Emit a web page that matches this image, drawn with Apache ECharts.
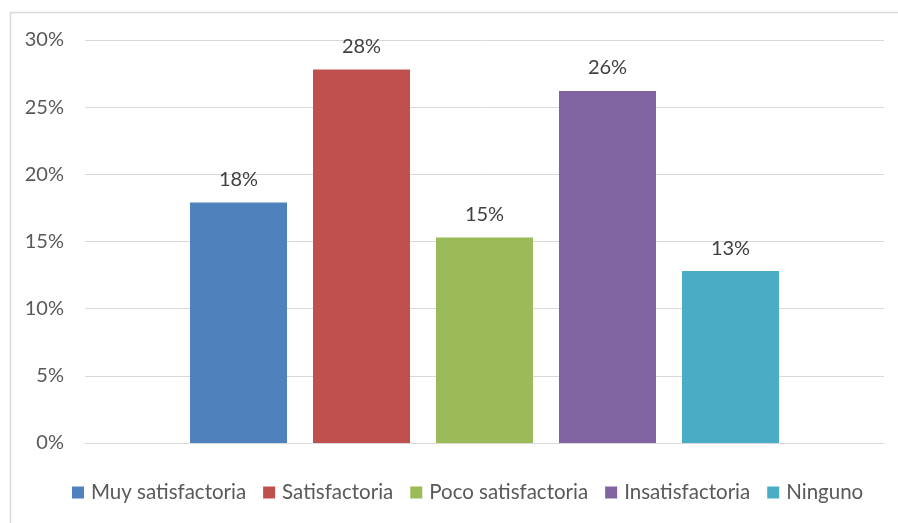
<!DOCTYPE html>
<html><head><meta charset="utf-8">
<script src="https://cdn.jsdelivr.net/npm/echarts@6/dist/echarts.min.js"></script>
<style>html,body{margin:0;padding:0;background:#fff}#c{width:898px;height:523px}</style>
</head><body><div id="c"></div>
<script>
const seriesNames = ['Muy satisfactoria','Satisfactoria','Poco satisfactoria','Insatisfactoria','Ninguno'];
const seriesValues = [17.9, 27.8, 15.3, 26.2, 12.8];
const seriesLabels = ['18%','28%','15%','26%','13%'];
const colors = ['#4F81BD','#C0504D','#9BBB59','#8064A2','#4BACC6'];
const yTicks = [0,5,10,15,20,25,30];

const font = 'Lato, "Open Sans", sans-serif';
const chart = echarts.init(document.getElementById('c'));
chart.setOption({
  animation:false,
  color: colors,
  graphic:[{type:'rect',shape:{x:10.5,y:12.5,width:900,height:520},style:{fill:null,stroke:'#d9d9d9',lineWidth:1.5},silent:true}],
  grid:{left:85,right:14,top:40,bottom:80},
  legend:{top:477,left:67,itemWidth:12,itemHeight:12,itemGap:17,icon:'rect',
    textStyle:{color:'#595959',fontSize:20.5,fontFamily:font,padding:[0,0,0,2]}, data:seriesNames},
  xAxis:{type:'category',data:[''],axisLine:{lineStyle:{color:'#d9d9d9',width:1}},axisTick:{show:false},axisLabel:{show:false}},
  yAxis:{type:'value',min:0,max:30,interval:5,
    axisLabel:{formatter:v=>yTicks.includes(v)?v+'%':'',color:'#595959',fontSize:20,fontFamily:font,margin:21},
    splitLine:{lineStyle:{color:'#d9d9d9',width:1}},axisLine:{show:false},axisTick:{show:false}},
  series: seriesNames.map((n,i)=>({
    name:n,type:'bar',data:[seriesValues[i]],barWidth:97,barGap:'26.8%',
    label:{show:true,position:'top',distance:13,formatter:()=>seriesLabels[i],color:'#404040',fontSize:20,fontFamily:font}
  }))
});
</script></body></html>
